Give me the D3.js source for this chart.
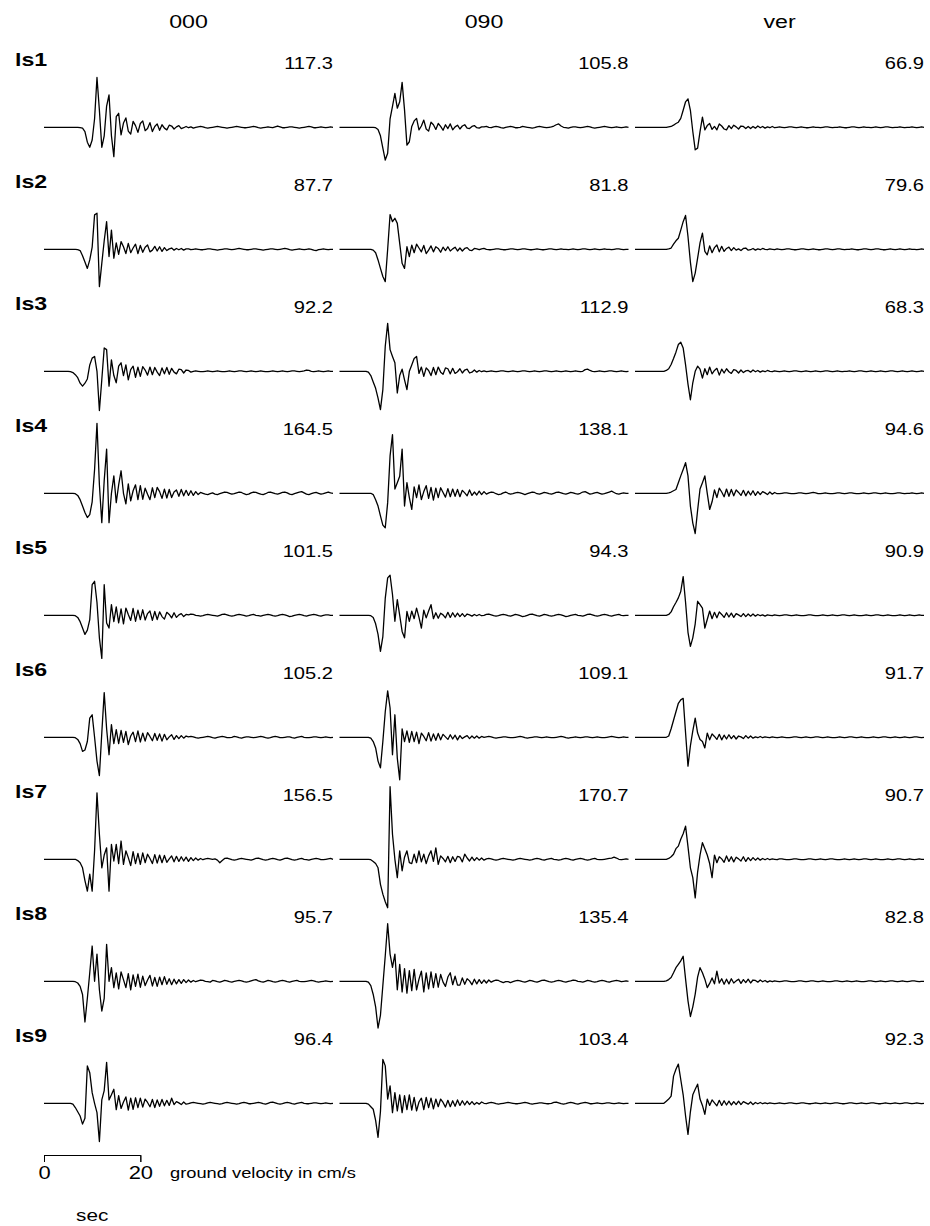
<!DOCTYPE html>
<html>
<head>
<meta charset="utf-8">
<script src="https://cdn.jsdelivr.net/npm/d3@7"></script>
<style>
  body { margin: 0; background: #fff; }
  svg { display: block; }
  text { font-family: "Liberation Sans", Arial, Helvetica, sans-serif; fill: #000; }
</style>
</head>
<body>
<div id="chart"></div>
<script>
// velocity traces in cm/s, one value every 0.5 s from 0 to 60 s (10 values = 5 s per line)
const ls1_000 = [
  0,0,0,0,0,0,0,0,0,0,
  0,0,0,0,0,-1,-2,-10,-35,-47,
  -30,20,117.3,40,-47,-20,50,76,-20,-69,
  25,33,-18,10,22,-9,-16,14,4,-12,
  9,15,-8,-3,11,-10,2,8,-7,6,
  -2,-6,5,3,-4,1,4,-3,-1,2,
  -1,1,-2,0,1,2,1,-1,-2,-1,
  0,1,2,1,0,-1,-2,-1,0,1,
  2,1,0,-1,-1,0,1,2,1,-1,
  -2,-1,0,1,0,-1,1,3,1,-1,
  -1,0,1,1,0,-1,-2,-1,0,1,
  2,1,-1,-1,0,1,0,-1,0,1,
  0];
const ls1_090 = [
  0,0,0,0,0,0,0,0,0,0,
  0,0,0,0,0,-1,-5,-20,-49,-77,
  -61,20,49,80,45,60,105.8,41,-42,-34,
  2,15,21,-6,3,17,-4,-9,12,6,
  -5,9,2,-7,6,-3,8,-6,1,5,
  -4,3,6,-2,-3,2,4,-1,-2,1,
  1,2,0,-1,1,2,1,-1,-2,0,
  1,2,1,-1,-1,0,2,1,0,-1,
  -2,-1,1,2,1,0,-1,0,1,3,
  6,8,3,0,-1,-2,0,1,1,0,
  -1,0,1,2,1,-1,-2,-1,0,1,
  2,1,0,-1,0,1,0,-1,0,1,
  0];
const ls1_ver = [
  0,0,0,0,0,0,0,0,0,0,
  0,0,0,0,1,2,5,9,12,21,
  40,60,66.9,40,-10,-53,-49,-10,24,-6,
  4,9,-5,2,-6,8,3,-4,-6,4,
  -3,5,1,-4,3,2,-3,2,-3,2,
  -2,3,-1,2,-2,1,-1,2,-1,0,
  1,0,-1,0,1,1,0,-1,0,1,
  0,-1,-1,0,1,0,0,-1,0,1,
  1,0,-1,0,0,1,0,-1,-1,0,
  1,1,0,-1,0,1,0,0,-1,0,
  1,0,-1,0,1,1,0,-1,0,0,
  1,0,-1,0,0,1,0,-1,0,1,
  0];
const ls2_000 = [
  0,0,0,0,0,0,0,0,0,0,
  0,0,0,0,-1,-3,-15,-30,-45,-25,
  5,81,85,-87.7,-33,20,65,-17,45,-21,
  15,-12,18,6,-10,14,-8,3,12,-10,
  9,-7,5,10,-6,-2,7,-4,6,-5,
  4,-3,1,3,-2,2,-1,2,-2,1,
  1,-1,0,1,0,-1,-1,0,1,1,
  0,-1,-2,-1,0,1,1,0,-1,0,
  1,2,1,0,-1,-1,0,1,1,0,
  -1,-2,-1,0,1,1,0,-1,0,1,
  2,1,-1,-2,-1,0,1,0,-1,0,
  1,0,-2,-3,-1,0,1,0,-1,0,
  0];
const ls2_090 = [
  0,0,0,0,0,0,0,0,0,0,
  0,0,0,0,-2,-8,-25,-45,-64,-76,
  0,81.8,65,73,61,14,-33,-45,6,-17,
  10,-8,12,3,-6,9,-10,-2,8,-6,
  6,2,-7,5,-3,6,-4,1,5,-4,
  3,-4,2,4,-2,-3,2,1,-1,1,
  2,0,-1,-1,0,1,1,0,-1,-1,
  0,1,1,0,-1,0,1,1,0,-1,
  -1,0,1,0,-1,-1,0,1,1,0,
  -1,0,1,0,0,-1,0,1,0,-1,
  0,1,1,0,-1,0,1,0,-1,0,
  1,0,0,-1,0,1,1,0,-1,0,
  0];
const ls2_ver = [
  0,0,0,0,0,0,0,0,0,0,
  0,0,0,0,1,3,12,20,26,45,
  65,79.6,30,-30,-76,-56,-21,15,38,-5,
  -13,8,-8,4,10,-6,7,-5,2,5,
  -3,4,-2,1,-3,2,3,-2,-1,2,
  -2,1,-1,2,0,-1,1,0,-1,1,
  0,-1,0,1,1,0,-1,-1,0,1,
  1,0,-1,0,1,0,-1,-1,0,1,
  1,0,-1,0,1,1,0,-1,0,0,
  1,0,-1,-1,0,1,1,0,-1,0,
  1,1,0,-1,-1,0,1,0,-1,0,
  1,0,-1,0,1,0,0,-1,0,1,
  0];
const ls3_000 = [
  0,0,0,0,0,0,0,0,0,0,
  0,-1,-3,-8,-15,-28,-35,-28,-18,15,
  31,35,0,-92.2,-20,55,51,-35,27,-10,
  -27,12,20,-10,15,-20,4,12,-14,10,
  -12,11,3,-9,10,-8,9,-2,-10,8,
  -6,9,-7,7,-2,-6,5,4,-4,3,
  2,-2,0,1,0,-1,-1,0,1,0,
  -1,0,1,0,-1,-1,0,1,0,-1,
  0,1,1,0,-1,0,1,0,-1,0,
  1,0,-1,-1,0,1,0,-1,0,1,
  0,-1,0,1,1,0,-1,0,1,3,
  2,0,-1,0,1,0,-1,0,1,0,
  0];
const ls3_090 = [
  0,0,0,0,0,0,0,0,0,0,
  0,0,-2,-10,-25,-40,-63,-90,-43,59,
  112.9,51,35,20,-51,-10,5,-20,-43,0,
  15,30,35,-5,10,-12,8,2,-10,9,
  -8,10,-2,-7,8,6,-6,7,-5,-1,
  6,-4,3,5,-4,-2,3,-2,2,-1,
  1,-1,0,1,0,-1,0,1,1,0,
  -1,0,1,0,-1,0,1,1,0,-1,
  0,1,0,-1,0,1,1,0,-1,0,
  1,0,-1,0,1,0,-1,0,1,0,
  -1,0,4,5,2,0,-1,0,1,0,
  -1,0,1,1,0,-1,0,1,0,-1,
  0];
const ls3_ver = [
  0,0,0,0,0,0,0,0,0,0,
  0,0,0,2,6,16,30,45,63,68.3,
  55,15,-30,-67,-27,0,12,5,-16,6,
  -8,10,-6,2,7,-9,5,-4,6,-1,
  -5,4,2,-4,3,-3,1,2,-2,3,
  -1,2,-2,1,-1,2,0,-1,1,0,
  -1,0,1,0,-1,0,1,1,0,-1,
  0,1,0,-1,0,1,0,-1,0,1,
  1,0,-1,0,1,0,-1,0,0,1,
  0,-1,0,1,1,0,-1,0,1,0,
  -1,0,1,0,-1,0,1,1,0,-1,
  0,1,0,-1,0,1,0,-1,0,1,
  0];
const ls4_000 = [
  0,0,0,0,0,0,0,0,0,0,
  0,0,0,-1,-5,-15,-30,-45,-57,-50,
  -20,56,164.5,20,-69,30,104,-69,0,41,
  -22,20,53,0,-25,22,-18,6,20,-15,
  18,-14,12,-2,-15,13,-10,14,4,-12,
  10,-11,9,-10,3,8,-7,9,-6,7,
  -5,6,-5,4,-3,2,0,-2,-3,-1,
  1,-2,-3,-1,1,3,2,0,-2,-1,
  1,3,2,-1,-3,-2,1,3,2,0,
  -2,-3,-1,2,3,1,-1,-2,0,2,
  3,1,-2,-3,-1,1,3,4,1,-2,
  -3,-1,1,2,0,-2,-1,1,3,1,
  0];
const ls4_090 = [
  0,0,0,0,0,0,0,0,0,0,
  0,0,0,0,-3,-15,-30,-53,-75,-81,
  -22,88,138.1,10,25,40,104,-30,25,-10,
  -38,15,-10,20,-15,4,18,-12,14,-16,
  12,-10,13,2,-9,11,-8,10,-7,9,
  -8,7,1,-6,8,-5,3,-4,5,-3,
  4,-2,1,3,2,-1,-3,-2,1,3,
  0,-2,-1,1,2,1,-1,-3,-1,1,
  3,2,-1,-2,0,2,1,-1,-2,0,
  2,3,1,-1,-2,0,2,1,-1,-2,
  0,3,4,1,-2,-1,1,2,0,-2,
  -1,1,3,5,2,-1,-2,0,1,0,
  0];
const ls4_ver = [
  0,0,0,0,0,0,0,0,0,0,
  0,0,0,0,1,3,6,9,25,41,
  56,72,41,-30,-70,-94.6,-40,10,25,41,
  0,-38,-20,8,-10,12,3,-8,10,-7,
  9,-6,8,2,-5,7,-6,5,-4,6,
  -5,4,-3,4,1,-3,3,-2,2,-1,
  -1,0,1,1,0,-1,-1,0,1,1,
  0,-1,0,1,2,1,-1,-1,0,1,
  0,-1,-1,0,1,1,0,-1,0,1,
  1,0,-1,-1,0,1,0,-1,0,1,
  1,0,-1,0,1,0,-1,-1,0,1,
  1,0,-1,0,0,1,0,-1,0,1,
  0];
const ls5_000 = [
  0,0,0,0,0,0,0,0,0,0,
  0,0,0,-1,-5,-15,-30,-45,-35,-10,
  72,80,30,-53,-101.5,72,-18,-30,25,-15,
  20,-18,15,-20,17,2,-12,16,-14,12,
  -10,13,-11,4,10,-12,9,-10,8,-3,
  -9,7,2,-6,6,-5,1,4,-3,2,
  1,3,2,0,-1,-2,-1,1,2,1,
  0,-1,-2,0,2,3,1,-1,-2,-1,
  1,2,1,0,-2,-1,1,2,0,-1,
  -2,0,1,2,1,-1,-2,-1,1,2,
  1,-1,-3,-2,0,1,2,1,-1,-2,
  0,1,2,1,-1,-2,0,1,1,0,
  0];
const ls5_090 = [
  0,0,0,0,0,0,0,0,0,0,
  0,0,0,-1,-5,-20,-45,-85,-50,40,
  88,94.3,49,-14,37,0,-38,-53,9,-14,
  10,-8,17,-5,-30,12,-6,10,25,-8,
  6,-7,5,1,-6,7,-5,6,-4,5,
  -3,4,-3,3,1,-2,2,-1,2,-1,
  0,2,3,1,-1,-2,-1,1,2,1,
  -1,-2,0,2,1,-1,-3,-2,0,2,
  3,1,-1,-2,0,2,1,-1,-2,-1,
  1,2,1,-1,-3,-2,0,1,2,0,
  -1,-2,0,2,3,1,-1,-2,-1,1,
  2,1,-1,-2,0,1,2,0,-1,0,
  0];
const ls5_ver = [
  0,0,0,0,0,0,0,0,0,0,
  0,0,0,0,2,8,20,30,41,56,
  90.9,30,-40,-73,-53,-20,33,25,17,-30,
  -10,10,-8,7,-6,8,2,-5,6,-4,
  5,-5,4,1,-3,4,-3,3,-2,3,
  -2,2,-1,1,-2,1,0,-1,1,0,
  -1,0,1,1,0,-1,0,1,0,-1,
  -1,0,1,1,0,-1,-1,0,1,0,
  -1,0,1,0,-1,0,1,1,0,-1,
  0,1,0,-1,-1,0,1,0,-1,0,
  1,1,0,-1,0,1,0,-1,-1,0,
  1,0,-1,0,1,0,-1,0,1,0,
  0];
const ls6_000 = [
  0,0,0,0,0,0,0,0,0,0,
  0,0,0,-1,-5,-15,-33,-30,-10,45,
  53,0,-56,-90,10,105.2,20,-41,30,-15,
  18,-15,16,-12,14,-17,3,12,-10,15,
  -11,10,-9,11,2,-8,9,-7,8,-9,
  7,-6,1,6,-5,4,-3,4,-2,3,
  1,2,1,-1,-2,-1,0,1,2,1,
  -1,-2,0,1,2,1,-1,-1,0,2,
  1,-1,-2,0,1,1,0,-1,0,1,
  2,1,-1,-2,-1,1,2,1,-1,-1,
  0,1,1,-1,-2,0,1,2,0,-1,
  -1,0,1,1,0,-1,0,1,0,-1,
  0];
const ls6_090 = [
  0,0,0,0,0,0,0,0,0,0,
  0,0,0,-2,-10,-25,-56,-72,-10,60,
  109.1,69,-41,53,-49,-100,20,-10,15,-12,
  14,-10,12,-15,10,2,-8,11,-9,8,
  -7,9,-6,7,1,-5,6,-4,5,-6,
  4,-3,1,4,-3,3,-2,3,-2,2,
  0,1,2,1,-1,-2,-1,0,1,1,
  0,-1,-1,0,1,2,1,-1,-2,-1,
  0,1,1,0,-1,0,1,0,-1,-1,
  0,1,2,1,-1,-2,-1,0,1,0,
  -1,0,1,1,0,-1,0,1,0,-1,
  -1,0,1,2,1,0,-1,0,1,0,
  0];
const ls6_ver = [
  0,0,0,0,0,0,0,0,0,0,
  0,0,0,0,3,20,40,60,80,88,
  91.7,10,-68,-20,15,45,10,-5,-10,-25,
  10,-6,8,2,-5,7,-6,5,-4,6,
  -3,4,-4,3,1,-3,4,-2,3,-2,
  1,-1,2,-1,1,0,-1,1,0,-1,
  0,1,0,-1,-1,0,1,1,0,-1,
  0,1,0,-1,0,1,1,0,-1,0,
  1,0,-1,-1,0,1,0,-1,0,1,
  1,0,-1,0,1,0,-1,-1,0,1,
  0,-1,0,1,1,0,-1,0,1,0,
  -1,0,1,0,-1,0,1,1,0,-1,
  0];
const ls7_000 = [
  0,0,0,0,0,0,0,0,0,0,
  0,0,0,0,-3,-8,-20,-50,-75,-35,
  -75,20,156.5,59,-20,10,27,-75,35,-4,
  35,-10,43,-12,20,4,-15,18,-10,14,
  -12,15,-8,12,2,-10,11,-9,10,-8,
  9,-7,1,8,-6,7,-5,6,-4,5,
  -5,4,-3,3,-2,2,-1,1,2,1,
  0,1,-2,-8,-3,2,3,1,-1,-2,
  -1,1,2,1,0,-1,-2,0,2,3,
  1,-1,-2,-1,1,2,1,-1,-2,0,
  2,3,1,-1,-2,-1,1,2,0,-1,
  -2,0,1,2,1,-1,-1,0,1,2,
  0];
const ls7_090 = [
  0,0,0,0,0,0,0,0,0,0,
  0,0,0,-1,-5,-10,-20,-59,-82,-100,
  -114,170.7,59,0,-43,20,-27,5,20,-8,
  -10,12,-8,20,-6,12,-10,8,20,-5,
  27,-12,8,2,-6,7,-8,6,-5,7,
  5,-6,12,3,-4,5,-3,4,-2,3,
  -2,1,2,1,-1,-2,-1,1,2,1,
  0,-1,-2,-1,1,2,1,0,-1,-2,
  -1,1,2,1,-1,-2,0,1,2,0,
  -1,-2,-1,1,2,1,-1,-2,0,1,
  2,1,-1,-2,-1,1,2,0,-1,-1,
  0,1,2,3,5,3,0,-1,0,1,
  0];
const ls7_ver = [
  0,0,0,0,0,0,0,0,0,0,
  0,0,0,0,2,6,12,25,31,47,
  60,78,30,-20,-43,-90.7,-30,10,39,25,
  10,-10,-43,10,-8,6,1,-7,8,-5,
  6,-6,5,1,-4,6,-5,4,-3,4,
  -2,3,-2,2,-1,2,-1,1,0,-1,
  1,1,0,-1,-1,0,1,1,0,-1,
  -1,0,1,1,0,-1,0,1,0,-1,
  0,1,1,0,-1,-1,0,1,0,-1,
  0,1,0,-1,0,1,1,0,-1,0,
  1,0,-1,-1,0,1,0,-1,0,1,
  1,0,-1,0,1,0,-1,0,1,0,
  0];
const ls8_000 = [
  0,0,0,0,0,0,0,0,0,0,
  0,0,0,-1,-4,-12,-31,-95.7,-40,20,
  83,0,64,-20,-70,-40,87,0,32,-15,
  20,-18,22,4,-15,18,-20,15,-12,17,
  -14,12,-10,3,14,-11,9,-12,10,-8,
  11,-7,6,-8,5,-6,4,-5,4,-3,
  3,-2,2,-1,1,3,2,0,-1,-2,
  2,1,-1,-2,0,2,1,-1,-2,0,
  1,2,1,-1,-2,-1,1,3,4,1,
  -1,-2,0,2,1,-1,-2,-1,1,2,
  1,-1,-2,0,1,2,0,-1,-1,0,
  1,2,1,-1,-2,-1,0,1,0,-1,
  0];
const ls8_090 = [
  0,0,0,0,0,0,0,0,0,0,
  0,0,-2,-10,-31,-60,-110,-80,-10,60,
  135.4,64,33,64,-20,40,-25,30,-28,25,
  -22,28,-20,5,24,-25,20,-18,22,-15,
  18,-14,16,-2,-12,10,20,-8,12,-9,
  -9,8,-7,6,1,-8,5,-6,4,-5,
  3,-4,3,-2,1,3,2,-1,-3,-1,
  -1,-3,-1,1,2,1,-1,-2,0,2,
  1,-1,-2,0,2,3,1,-1,-2,-1,
  1,2,1,-1,-2,0,1,3,2,0,
  -1,-2,0,2,1,-1,-2,-1,1,2,
  1,-1,-2,0,1,2,1,-1,0,1,
  0];
const ls8_ver = [
  0,0,0,0,0,0,0,0,0,0,
  0,0,0,1,4,9,20,32,40,48,
  59,5,-46,-82.8,-60,-30,10,32,20,5,
  -15,-5,8,-6,24,-4,6,-7,5,-6,
  6,-4,1,5,-5,4,-3,5,-4,3,
  2,-2,3,-1,2,-2,1,-1,1,0,
  -1,0,1,1,0,-1,-1,0,1,1,
  0,-1,0,1,1,0,-1,0,1,0,
  -1,-1,0,1,1,0,-1,0,1,0,
  -1,0,1,0,-1,-1,0,1,1,0,
  -1,0,1,0,-1,0,1,1,0,-1,
  0,1,0,-1,0,1,1,0,-1,0,
  0];
const ls9_000 = [
  0,0,0,0,0,0,0,0,0,0,
  0,0,-2,-10,-20,-30,-49,-35,88,72,
  25,0,-22,-90,8,30,96.4,8,20,33,
  -15,18,-12,3,15,-16,12,-14,13,-10,
  12,-9,10,2,-8,9,-10,8,-7,9,
  -6,7,-5,12,-3,4,1,-3,3,-2,
  -1,1,2,1,0,-1,-2,-1,1,2,
  1,0,-1,-2,-1,1,2,1,0,-1,
  -2,-1,1,2,1,-1,-1,0,1,2,
  1,-1,-2,0,2,3,1,-1,-2,-1,
  1,2,1,-1,-2,0,1,2,0,-1,
  -1,0,1,1,0,-1,0,1,0,-1,
  0];
const ls9_090 = [
  0,0,0,0,0,0,0,0,0,0,
  0,0,-2,-8,-14,-40,-80,-20,103.4,88,
  10,41,-22,25,-18,20,-22,18,-15,20,
  -16,14,-18,3,12,-15,14,-10,12,-13,
  10,-8,10,2,-9,7,-8,6,-7,8,
  -5,6,-4,5,-3,4,-3,2,-2,3,
  0,-1,1,2,1,-1,-2,-1,0,1,
  2,1,0,-1,-1,0,1,2,1,-1,
  -2,-1,0,1,1,0,-1,-1,0,2,
  3,1,-1,-2,-1,1,2,1,-1,-2,
  0,1,2,1,-1,-1,0,1,0,-1,
  0,1,1,0,-1,0,1,0,-1,0,
  0];
const ls9_ver = [
  0,0,0,0,0,0,0,0,0,0,
  0,0,0,5,10,17,64,80,92.3,56,
  20,-30,-73,-20,20,33,45,10,-5,-26,
  10,-5,8,1,-6,7,-5,6,-4,5,
  -4,4,-3,5,-3,4,1,-2,3,-3,
  2,-1,2,-1,1,-1,1,0,-1,0,
  1,0,-1,0,1,1,0,-1,0,1,
  1,0,-1,-1,0,1,0,-1,0,1,
  0,-1,0,1,1,0,-1,-1,0,1,
  1,0,-1,0,1,0,-1,0,1,1,
  0,-1,-1,0,1,0,-1,0,1,0,
  -1,0,1,1,0,-1,0,1,0,-1,
  0];

const stations = ["ls1", "ls2", "ls3", "ls4", "ls5", "ls6", "ls7", "ls8", "ls9"];
const components = ["000", "090", "ver"];
const peak000 = [117.3, 87.7, 92.2, 164.5, 101.5, 105.2, 156.5, 95.7, 96.4];
const peak090 = [105.8, 81.8, 112.9, 138.1, 94.3, 109.1, 170.7, 135.4, 103.4];
const peakVer = [66.9, 79.6, 68.3, 94.6, 90.9, 91.7, 90.7, 82.8, 92.3];
const dt = 0.5;
const barTicks = [0, 20];

// table built from the arrays above
const traces = {
  "000": [ls1_000, ls2_000, ls3_000, ls4_000, ls5_000, ls6_000, ls7_000, ls8_000, ls9_000],
  "090": [ls1_090, ls2_090, ls3_090, ls4_090, ls5_090, ls6_090, ls7_090, ls8_090, ls9_090],
  "ver": [ls1_ver, ls2_ver, ls3_ver, ls4_ver, ls5_ver, ls6_ver, ls7_ver, ls8_ver, ls9_ver]
};
const peaks = { "000": peak000, "090": peak090, "ver": peakVer };

const width = 930, height = 1226;
const colX = [44, 339.5, 635];
const traceW = 289;
const row0 = 127.3, rowStep = 122;
const sx = 1.22; // the type in the reference is drawn a bit wide

const svg = d3.select("#chart")
  .append("svg")
  .attr("width", width)
  .attr("height", height);

const x = d3.scaleLinear().domain([0, 60]).range([0, traceW]);
const y = d3.scaleLinear().domain([-100, 100]).range([42.5, -42.5]);

const line = d3.line()
  .x((d, i) => x(i * dt))
  .y(d => y(d));

function label(g, px, py, str, anchor, size, weight) {
  return g.append("text")
    .attr("transform", `translate(${px},${py}) scale(${sx},1)`)
    .attr("text-anchor", anchor)
    .style("font-size", size + "px")
    .style("font-weight", weight || "normal")
    .text(str);
}

// column titles
components.forEach((c, j) => {
  label(svg, colX[j] + traceW / 2, 28, c, "middle", 19);
});

// rows
stations.forEach((s, i) => {
  const base = row0 + i * rowStep;
  label(svg, 15, base - 61, s, "start", 19, "bold");

  components.forEach((c, j) => {
    const g = svg.append("g")
      .attr("transform", `translate(${colX[j]},${base})`);

    g.append("path")
      .datum(traces[c][i])
      .attr("fill", "none")
      .attr("stroke", "#000")
      .attr("stroke-width", 1.3)
      .attr("stroke-linejoin", "round")
      .attr("d", line);

    label(g, traceW, -58, peaks[c][i].toFixed(1), "end", 16.5);
  });
});

// time scale bar
const barY = 1155;
const barScale = d3.scaleLinear().domain([0, 20]).range([0, x(20)]);
const bar = svg.append("g")
  .attr("transform", `translate(${colX[0]},${barY})`)
  .call(d3.axisBottom(barScale).tickValues(barTicks).tickSize(7).tickPadding(4).tickFormat(d3.format("d")));

bar.selectAll("path, line").attr("stroke", "#000").attr("stroke-width", 1);
bar.selectAll("text")
  .attr("transform", `scale(${sx},1)`)
  .style("font-family", "Liberation Sans, Arial, sans-serif")
  .style("font-size", "18px")
  .attr("fill", "#000");

label(svg, colX[0] + barScale(10), 1221, "sec", "middle", 17);
label(svg, 170, 1178, "ground velocity in cm/s", "start", 15);
</script>
</body>
</html>
